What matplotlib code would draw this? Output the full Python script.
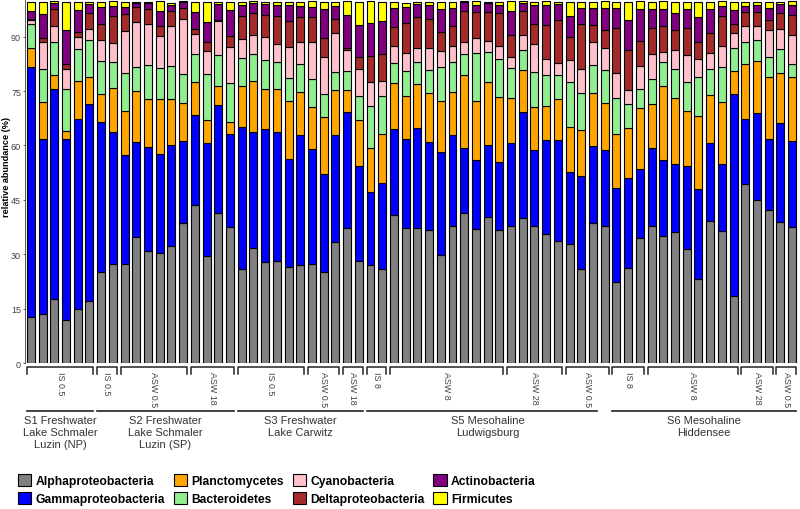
import numpy as np
import matplotlib
matplotlib.use("Agg")
import matplotlib.pyplot as plt
import matplotlib.transforms as mtransforms

plt.rcParams['font.family'] = ['Liberation Sans', 'DejaVu Sans']

# relative abundance (%) per sample, bottom to top of each stack
alpha = [12.7, 13.4, 17.7, 11.8, 14.9, 17.0, 25.1, 27.2, 27.4, 34.8,
         30.8, 30.4, 32.4, 38.5, 43.7, 29.5, 41.3, 37.6, 25.8, 31.8,
         27.8, 28.1, 26.4, 26.9, 27.4, 25.0, 33.3, 37.3, 28.1, 26.9,
         25.8, 40.7, 37.3, 37.3, 36.6, 29.7, 37.8, 41.4, 37.0, 40.3,
         36.8, 37.8, 40.1, 37.8, 35.5, 33.6, 32.7, 26.0, 38.7, 37.8,
         22.3, 26.2, 34.5, 37.8, 35.0, 36.1, 31.5, 23.2, 39.1, 36.4,
         18.6, 49.3, 44.9, 42.2, 38.9, 37.6]
gamma = [68.8, 48.5, 58.0, 49.9, 52.5, 54.3, 41.5, 36.6, 30.1, 26.2,
         28.8, 27.2, 27.6, 22.7, 24.6, 31.3, 29.8, 25.5, 39.4, 32.0,
         36.6, 35.6, 29.9, 35.9, 31.5, 27.0, 29.5, 31.8, 26.1, 20.3,
         23.9, 23.9, 24.4, 27.6, 24.3, 28.5, 25.0, 18.0, 19.0, 19.7,
         18.6, 23.0, 29.2, 21.0, 26.1, 27.9, 20.0, 25.6, 21.2, 21.0,
         26.1, 24.9, 18.9, 21.6, 21.0, 18.7, 22.8, 24.9, 21.6, 18.4,
         55.5, 18.1, 24.1, 19.7, 27.4, 23.7]
planct = [5.5, 10.1, 3.7, 2.3, 10.4, 7.6, 7.7, 12.0, 12.0, 14.1,
          13.1, 15.2, 12.7, 10.4, 9.2, 6.3, 5.3, 3.4, 11.2, 14.1,
          11.2, 12.0, 15.9, 12.0, 11.8, 15.9, 12.5, 6.3, 12.9, 12.0,
          13.4, 12.5, 12.0, 12.0, 13.6, 14.1, 12.0, 20.0, 16.3, 17.5,
          18.0, 12.2, 11.6, 11.7, 9.4, 11.4, 12.5, 12.7, 14.7, 12.9,
          14.7, 13.8, 16.8, 12.0, 20.3, 18.4, 15.2, 19.9, 13.1, 17.2,
          6.4, 15.0, 14.3, 16.9, 13.6, 17.5]
bact = [6.6, 9.2, 9.2, 11.5, 8.7, 10.3, 8.9, 7.2, 10.6, 6.4,
        9.4, 8.5, 9.2, 8.0, 7.6, 12.6, 8.5, 10.7, 7.8, 7.4,
        7.9, 7.4, 6.4, 7.6, 7.6, 6.2, 5.0, 5.2, 6.4, 11.6,
        10.4, 5.5, 6.7, 6.0, 6.3, 9.2, 8.3, 5.8, 13.2, 8.3,
        10.5, 8.3, 5.5, 9.7, 8.5, 6.4, 12.3, 10.3, 7.6, 9.2,
        10.1, 6.4, 5.5, 6.9, 6.8, 7.8, 8.0, 11.0, 7.2, 9.5,
        6.4, 6.0, 5.8, 5.5, 6.6, 3.7]
cyano = [1.0, 7.2, 4.4, 5.5, 3.5, 2.9, 6.0, 5.2, 11.5, 12.6,
         11.3, 8.8, 11.0, 15.4, 5.5, 6.4, 9.4, 10.0, 5.2, 5.2,
         6.4, 4.9, 8.6, 6.0, 10.1, 10.4, 10.6, 5.8, 7.7, 6.6,
         4.3, 4.8, 5.2, 4.1, 6.2, 4.6, 4.4, 3.4, 4.1, 3.0,
         3.5, 3.0, 4.1, 7.8, 4.4, 3.3, 6.1, 6.6, 6.4, 5.9,
         6.7, 4.1, 6.3, 6.9, 2.8, 5.3, 7.4, 4.8, 4.4, 5.8,
         4.1, 4.6, 3.9, 7.4, 5.7, 8.0]
delta = [0.3, 1.1, 4.6, 1.4, 1.4, 4.4, 4.4, 7.5, 4.6, 4.2,
         4.1, 2.8, 4.1, 2.8, 1.4, 2.3, 0.3, 3.0, 6.4, 6.1,
         6.2, 7.6, 7.1, 6.9, 6.9, 5.0, 4.1, 0.4, 3.3, 7.4,
         7.4, 5.3, 8.1, 8.3, 7.8, 5.1, 5.5, 8.6, 7.2, 8.0,
         9.0, 6.2, 6.7, 5.5, 9.2, 12.0, 6.4, 12.2, 4.6, 4.9,
         12.6, 11.0, 6.9, 7.1, 7.0, 5.5, 7.6, 4.6, 5.5, 8.3,
         2.6, 3.7, 3.7, 3.0, 4.2, 5.5]
actino = [2.2, 6.7, 1.7, 9.5, 6.0, 2.6, 4.6, 2.8, 2.1, 1.1,
          1.7, 4.3, 1.8, 1.7, 4.8, 5.7, 4.3, 7.2, 2.8, 2.8,
          2.8, 3.1, 4.3, 3.2, 2.8, 8.1, 3.5, 9.2, 8.7, 9.0,
          9.2, 5.2, 4.6, 3.7, 3.9, 6.4, 4.8, 2.3, 2.0, 2.4,
          2.2, 6.7, 2.2, 5.2, 5.7, 4.3, 5.7, 4.6, 4.6, 6.2,
          5.5, 8.1, 8.6, 5.3, 4.6, 4.8, 5.1, 6.9, 6.8, 2.8,
          3.7, 1.8, 2.0, 3.1, 2.5, 2.8]
firm = [2.5, 3.4, 0.4, 7.7, 2.2, 0.4, 1.3, 1.3, 1.3, 0.2,
        0.4, 2.5, 0.6, 0.2, 2.8, 5.5, 0.6, 2.2, 0.9, 0.4,
        0.6, 0.9, 0.9, 1.1, 1.6, 2.0, 1.1, 3.7, 6.4, 5.9,
        5.2, 1.6, 1.1, 0.6, 0.9, 2.0, 1.8, 0.2, 0.9, 0.4,
        0.9, 2.5, 0.3, 0.9, 0.9, 0.6, 3.9, 1.6, 1.8, 1.8,
        1.6, 5.0, 2.2, 2.0, 2.2, 2.9, 2.0, 4.3, 1.8, 1.3,
        2.2, 1.1, 0.9, 1.8, 0.6, 0.9]

names = ['Alphaproteobacteria', 'Gammaproteobacteria', 'Planctomycetes', 'Bacteroidetes',
         'Cyanobacteria', 'Deltaproteobacteria', 'Actinobacteria', 'Firmicutes']
colors = ['#808080', '#0000ff', '#ffa500', '#90ee90', '#ffc0cb', '#a52a2a', '#800080', '#ffff00']

# sample groups (treatment) and sites
group_labels = ['IS 0.5', 'IS 0.5', 'ASW 0.5', 'ASW 18', 'IS 0.5', 'ASW 0.5', 'ASW 18',
                'IS 8', 'ASW 8', 'ASW 28', 'ASW 0.5', 'IS 8', 'ASW 8', 'ASW 28', 'ASW 0.5']
group_sizes = [6, 2, 6, 4, 6, 3, 2, 2, 10, 5, 4, 3, 8, 3, 2]
site_labels = ['S1 Freshwater\nLake Schmaler\nLuzin (NP)',
               'S2 Freshwater\nLake Schmaler\nLuzin (SP)',
               'S3 Freshwater\nLake Carwitz',
               'S5 Mesohaline\nLudwigsburg',
               'S6 Mesohaline\nHiddensee']
site_ngroups = [1, 3, 3, 4, 4]
site_line_trim = [0, 0, 0, 1, 0]   # the S5 underline stops one bar short

layers = [alpha, gamma, planct, bact, cyano, delta, actino, firm]

fig = plt.figure(figsize=(8, 5.1), dpi=100)
ax = fig.add_axes([25 / 800, 1 - 364 / 510, 773 / 800, 362.6 / 510])

x = np.arange(len(alpha))
bottom = np.zeros(len(x))
for vals, name, col in zip(layers, names, colors):
    ax.bar(x, vals, 0.68, bottom=bottom, color=col, edgecolor='black', linewidth=0.8, label=name)
    bottom += np.array(vals)

ax.set_xlim(-0.5, len(x) - 0.5)
ax.set_ylim(0, 100)
ax.set_yticks([0, 15, 30, 45, 60, 75, 90])
ax.set_xticks([])
ax.tick_params(axis='y', labelsize=6.5, length=1.8, width=0.6, pad=1, colors='#404040')
for s in ['top', 'right', 'bottom']:
    ax.spines[s].set_visible(False)
ax.spines['left'].set_color('#404040')
ax.spines['left'].set_linewidth(0.6)

fig.text(6.3 / 800, 1 - 166.7 / 510, 'relative abundance (%)', rotation=90,
         ha='center', va='center', fontsize=6.6, fontweight='bold')

# brackets + treatment labels under the bars
trans = mtransforms.blended_transform_factory(ax.transData, ax.transAxes)


def fy(ypx):
    return (364 - ypx) / 362.6


starts = np.cumsum([0] + group_sizes[:-1])
for lab, st, n in zip(group_labels, starts, group_sizes):
    x0 = st - 0.34
    x1 = st + n - 1 + 0.34
    ax.plot([x0, x0, x1, x1], [fy(375), fy(368.3), fy(368.3), fy(375)],
            transform=trans, color='#222222', lw=1.1, clip_on=False)
    ax.text((x0 + x1) / 2, fy(372.5), lab, rotation=270, ha='center', va='top',
            fontsize=6.4, color='#404040', transform=trans)

# site lines + names
g = 0
for lab, ng, trim in zip(site_labels, site_ngroups, site_line_trim):
    first = starts[g]
    last = starts[g + ng - 1] + group_sizes[g + ng - 1] - 1
    ax.plot([first - 0.34, last - trim + 0.34], [fy(412.3), fy(412.3)],
            transform=trans, color='#222222', lw=1.2, clip_on=False)
    ax.text((first + last) / 2, fy(415.5), lab, ha='center', va='top', fontsize=8,
            color='#333333', linespacing=1.25, transform=trans)
    g += ng

handles, labels = ax.get_legend_handles_labels()
fig.legend(handles, labels, ncol=4, loc='upper left', bbox_to_anchor=(18 / 800, 1 - 475 / 510),
           frameon=False, borderpad=0, borderaxespad=0, prop={'weight': 'bold', 'size': 8.7},
           handlelength=1.1, handleheight=1.1, handletextpad=0.36, columnspacing=0.72,
           labelspacing=0.42)

fig.savefig('out.png', dpi=100)
